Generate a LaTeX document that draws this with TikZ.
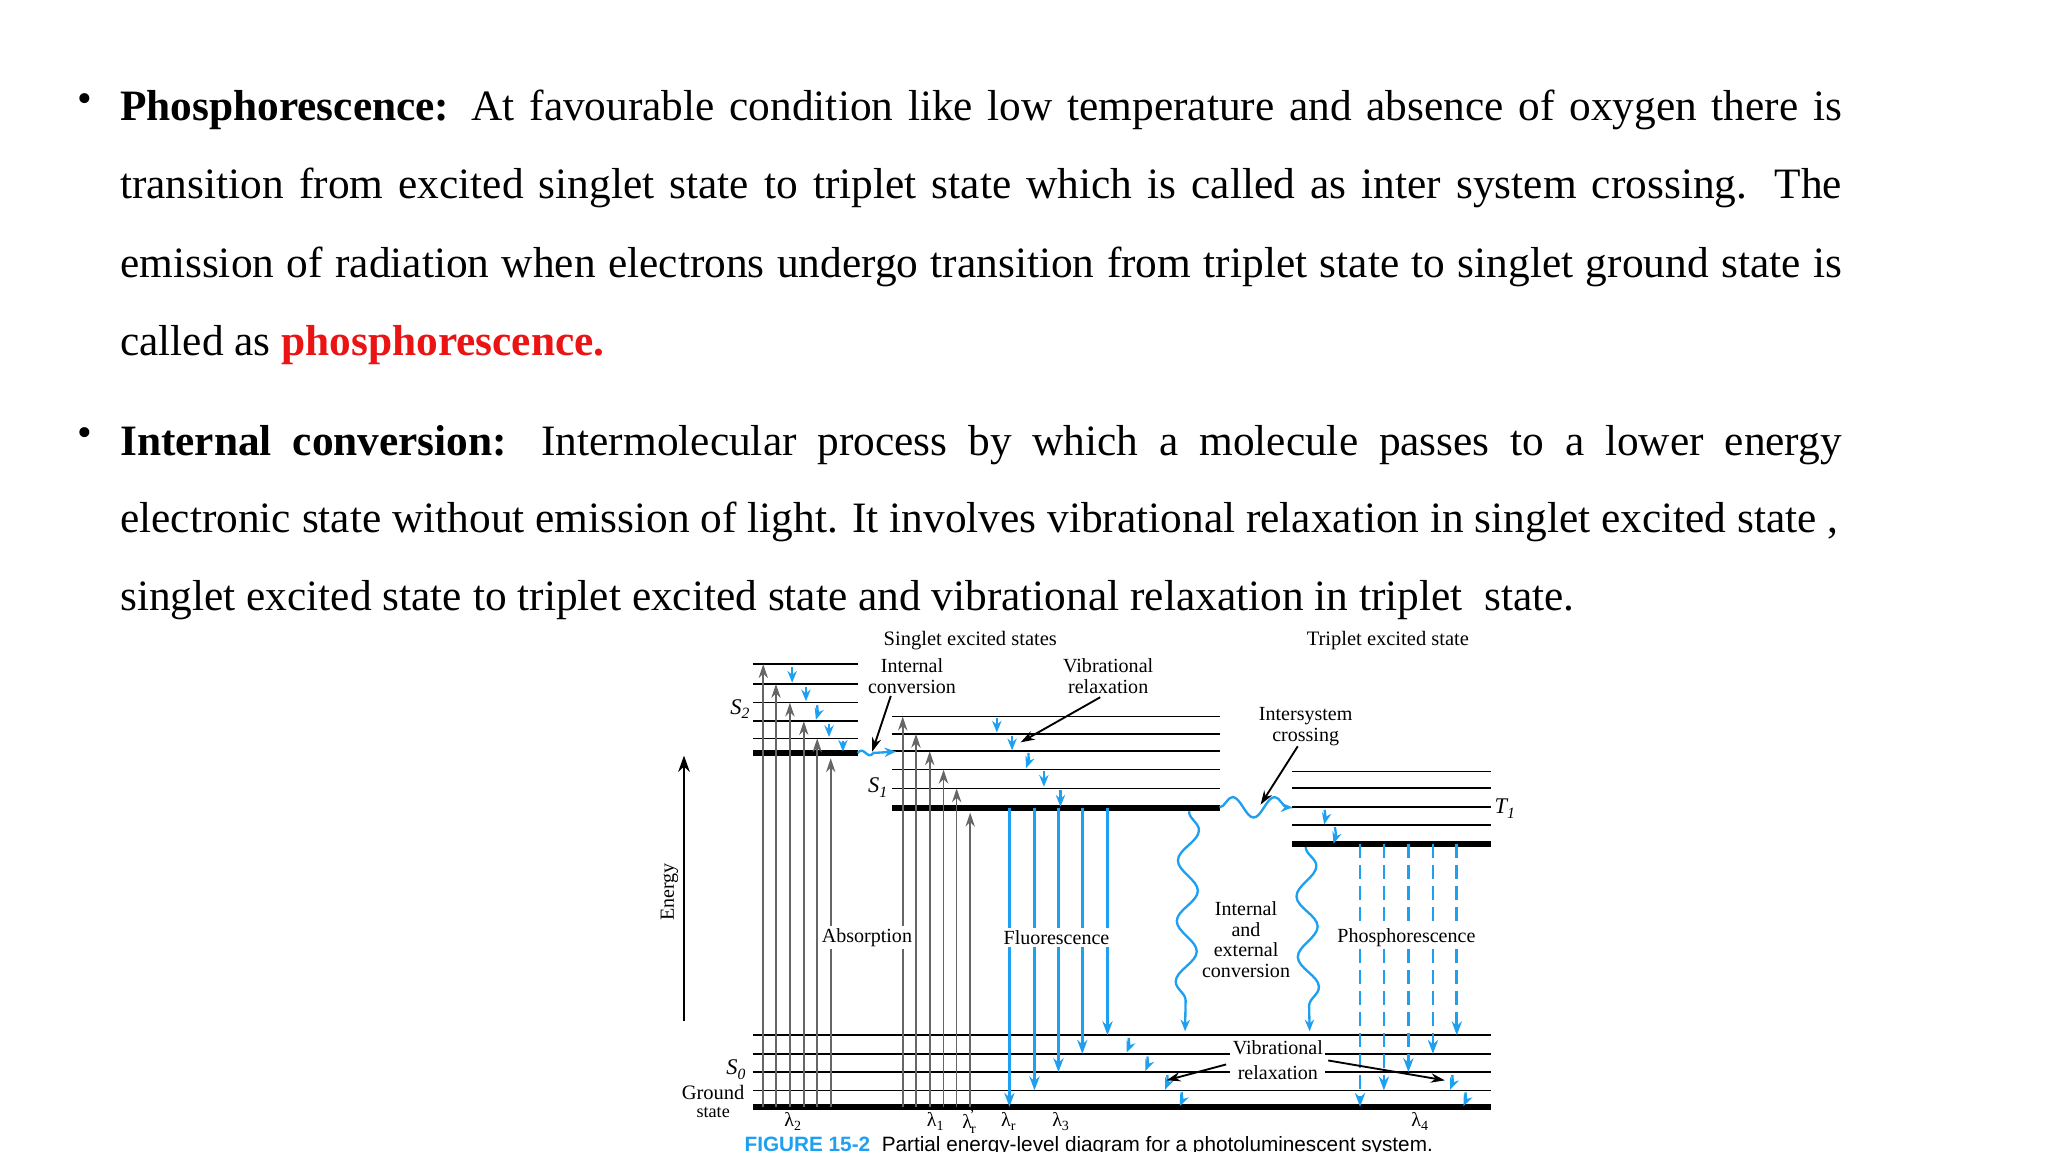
\documentclass[tikz,border=0pt]{standalone}
\usepackage{fontspec}
\setmainfont{Liberation Serif}
\newfontfamily\capfont{Liberation Sans}
\usetikzlibrary{arrows.meta,decorations.pathmorphing}
\definecolor{fblue}{RGB}{30,160,240}
\definecolor{pred}{RGB}{235,20,20}
\newcommand{\fullline}[1]{\parbox{12.98cm}{\parfillskip=0pt\relax #1}}
\tikzset{
 body/.style={anchor=west,inner sep=0pt,font=\fontsize{9.3}{11}\selectfont},
 lab/.style={inner sep=0.5pt,font=\fontsize{3.7}{4.4}\selectfont,align=center},
 slab/.style={inner sep=0.5pt,font=\fontsize{4.8}{5}\selectfont\itshape},
 lvl/.style={line width=0.35pt},
 thick lvl/.style={line width=1.3pt},
 absarr/.style={gray!80!black,line width=0.35pt,-{Stealth[length=3pt,width=2pt]}},
 bl/.style={fblue,line width=0.6pt,-{Stealth[length=3pt,width=2.2pt]}},
 bld/.style={fblue,line width=0.6pt,dash pattern=on 3pt off 1.5pt,-{Stealth[length=3pt,width=2.2pt]}},
 rel/.style={fblue,line width=0.5pt,-{Stealth[length=2.5pt,width=2pt]}},
 wav/.style={fblue,line width=0.5pt,decorate,decoration={snake,amplitude=2.2pt,segment length=9pt,post length=1pt}},
 pt/.style={-{Stealth[length=3pt,width=2pt]},line width=0.4pt}
}
\begin{document}
\begin{tikzpicture}[x=0.01cm,y=-0.01cm]
\useasboundingbox (0,0) rectangle (1545,869);
% ---------- text ----------
\node[body] (b1) at (58,78) {\fontsize{9}{10}\selectfont\textbullet};
\node[body] (l1) at (90,83) {\fullline{\textbf{Phosphorescence:} At favourable condition like low temperature and absence of oxygen there is}};
\node[body] (l2) at (90,142) {\fullline{transition from excited singlet state to triplet state which is called as inter system crossing. The}};
\node[body] (l3) at (90,201) {\fullline{emission of radiation when electrons undergo transition from triplet state to singlet ground state is}};
\node[body] (l4) at (90,260) {called as \textcolor{pred}{\textbf{phosphorescence.}}};
\node[body] (b2) at (58,330) {\fontsize{9}{10}\selectfont\textbullet};
\node[body] (l5) at (90,336) {\fullline{\textbf{Internal conversion:} Intermolecular process by which a molecule passes to a lower energy}};
\node[body] (l6) at (90,394) {electronic state without emission of light. It involves vibrational relaxation in singlet excited state ,};
\node[body] (l7) at (90,453) {singlet excited state to triplet excited state and vibrational relaxation in triplet\ \ state.};
% ---------- headers ----------
\node[lab,font=\fontsize{4.4}{5}\selectfont] (hs) at (732,483) {Singlet excited states};
\node[lab,font=\fontsize{4.4}{5}\selectfont] (ht) at (1047,483) {Triplet excited state};
% ---------- S2 ----------
\foreach \y in {501,516,530,544,557} \draw[lvl] (568,\y) -- (647,\y);
\draw[thick lvl] (568,568) -- (647,568);
\node[slab] (s2) at (559,535) {S\textsubscript{2}};
% ---------- S1 ----------
\foreach \y in {540.5,553.6,566.7,580.6,594.7} \draw[lvl] (673,\y) -- (920,\y);
\draw[thick lvl] (673,609.6) -- (920,609.6);
\node[slab] (s1) at (663,594) {S\textsubscript{1}};
% ---------- T ----------
\foreach \y in {582,594.3,609,622.3} \draw[lvl] (975,\y) -- (1125,\y);
\draw[thick lvl] (975,637) -- (1125,637);
\node[slab] (t1) at (1136,610) {T\textsubscript{1}};
% ---------- S0 ----------
\foreach \y in {781,795,808.8,822.6} \draw[lvl] (568,\y) -- (1125,\y);
\draw[thick lvl] (568,835) -- (1125,835);
\node[slab] (s0) at (556,807) {S\textsubscript{0}};
\node[lab] (gs) at (538,831) {\fontsize{4.4}{4.9}\selectfont Ground\\[-0.5pt] \fontsize{3.9}{4.4}\selectfont state};
% ---------- absorption ----------
\foreach \x/\y in {575.8/501,585.4/516,595.9/530,606.4/544,616.5/557,626.7/572}
  \draw[absarr] (\x,835) -- (\x,\y);
\foreach \x/\y in {681/540.5,691/553.6,701.4/566.7,711.8/580.6,721.7/594.7,731.9/613}
  \draw[absarr] (\x,835) -- (\x,\y);
\node[lab,fill=white,font=\fontsize{4.3}{5}\selectfont] (ab) at (654,707) {Absorption};
% S2 relaxation
\draw[rel] (597.6,503) -- (597.6,515);
\draw[rel] (608,518) -- (608,529);
\draw[rel] (616.4,532) .. controls (617,538) .. (615.5,543);
\draw[rel] (625.4,546) -- (625.4,556);
\draw[rel] (635.9,559) -- (635.9,567);
% internal conversion wave
\draw[fblue,line width=0.5pt,-{Stealth[length=2.5pt,width=2pt]}] (647,568) .. controls (652,562) and (654,574) .. (659,568) -- (676,567);
\node[lab] (ic) at (688,510) {\fontsize{4.3}{5}\selectfont Internal\\ \fontsize{4.3}{5}\selectfont conversion};
\draw[pt] (672,525) -- (658,567);
% S1 relaxation
\draw[rel] (752,542) -- (752,552.6);
\draw[rel] (763.5,555) -- (763.5,566);
\draw[rel] (775.9,568) .. controls (776,574) .. (774,579.5);
\draw[rel] (787.5,582) -- (787.5,593.5);
\draw[rel] (800,596) -- (800,608.5);
\node[lab] (vr) at (836,510) {\fontsize{4.3}{5}\selectfont Vibrational\\ \fontsize{4.3}{5}\selectfont relaxation};
\draw[pt] (830,526) -- (770,560);
% ---------- fluorescence ----------
\foreach \x/\y in {761.5/835,780.4/822.6,798.5/808.8,816.5/795,835.5/781}
  \draw[bl] (\x,609.6) -- (\x,\y);
\node[lab,fill=white,font=\fontsize{4.3}{5}\selectfont] (fl) at (797,707) {Fluorescence};
\draw[rel] (851.4,783) .. controls (852,789) .. (850,794);
\draw[rel] (865.6,797) .. controls (866,803) .. (864,808);
\draw[rel] (880.6,811) .. controls (881,817) .. (879,822);
\draw[rel] (891.4,824) .. controls (892,830) .. (890,834.5);
% ---------- wavy conversions ----------
\draw[wav,decoration={amplitude=2.2pt,segment length=13pt},-{Stealth[length=2.5pt,width=2pt]}] (897,612) -- (894,778);
\draw[wav,decoration={amplitude=2.2pt,segment length=13pt},-{Stealth[length=2.5pt,width=2pt]}] (985,639) -- (988,778);
\node[lab] (iec) at (940,709) {\fontsize{4.3}{5.2}\selectfont Internal\\ \fontsize{4.3}{5.2}\selectfont and\\ \fontsize{4.3}{5.2}\selectfont external\\ \fontsize{4.3}{5.2}\selectfont conversion};
% intersystem crossing
\draw[wav,-{Stealth[length=2.5pt,width=2pt]}] (920,609) -- (975,609);
\node[lab] (isc) at (985,548) {\fontsize{4.3}{5}\selectfont Intersystem\\ \fontsize{4.3}{5}\selectfont crossing};
\draw[pt] (979,563) -- (951,607);
% triplet relaxation
\draw[rel] (999.3,611) .. controls (1000,617) .. (999,622);
\draw[rel] (1007,624) .. controls (1008,630) .. (1006,636.5);
% ---------- phosphorescence ----------
\foreach \x/\y in {1026/835,1044/822.6,1062.5/808.8,1081/795,1099/781}
  \draw[bld] (\x,637) -- (\x,\y);
\node[lab,fill=white,font=\fontsize{4.3}{5}\selectfont] (ph) at (1061,707) {Phosphorescence};
\draw[rel] (1095.6,811) .. controls (1096,817) .. (1094,822);
\draw[rel] (1105.5,824) .. controls (1106,830) .. (1104,834.5);
% bottom vib relaxation
\node[lab,fill=white] (vr2) at (964,800) {\fontsize{4.3}{5}\selectfont Vibrational\\[1pt] \fontsize{4.3}{5}\selectfont relaxation};
\draw[pt] (925,803) -- (880,815);
\draw[pt] (1002,800) -- (1090,815);
% ---------- lambdas ----------
\foreach \n/\x/\t in {la2/599/{λ\textsubscript{2}},la1/706.5/{λ\textsubscript{1}},lar1/732/{λ\textsuperscript{\kern-0.5pt\textquoteright}\kern-1.2pt\textsubscript{r}},lar/761.5/{λ\textsubscript{r}},la3/801/{λ\textsubscript{3}},la4/1072/{λ\textsubscript{4}}}
  \node[lab,font=\fontsize{4.3}{5}\selectfont] (\n) at (\x,846) {\t};
% ---------- energy axis ----------
\coordinate (e0) at (516,770);
\coordinate (e1) at (516,570);
\draw[line width=0.5pt,-{Stealth[length=3.5pt,width=2.5pt]}] (e0) -- (e1);
\node[lab,rotate=90,font=\fontsize{4.3}{5}\selectfont] (en) at (505,673) {Energy};
% ---------- caption ----------
\node[anchor=west,inner sep=0pt,font=\capfont\fontsize{4.45}{5}\selectfont] (cap) at (561,865) {\textcolor{fblue}{\textbf{FIGURE 15-2}}\ \ Partial energy-level diagram for a photoluminescent system.};
\end{tikzpicture}
\end{document}
